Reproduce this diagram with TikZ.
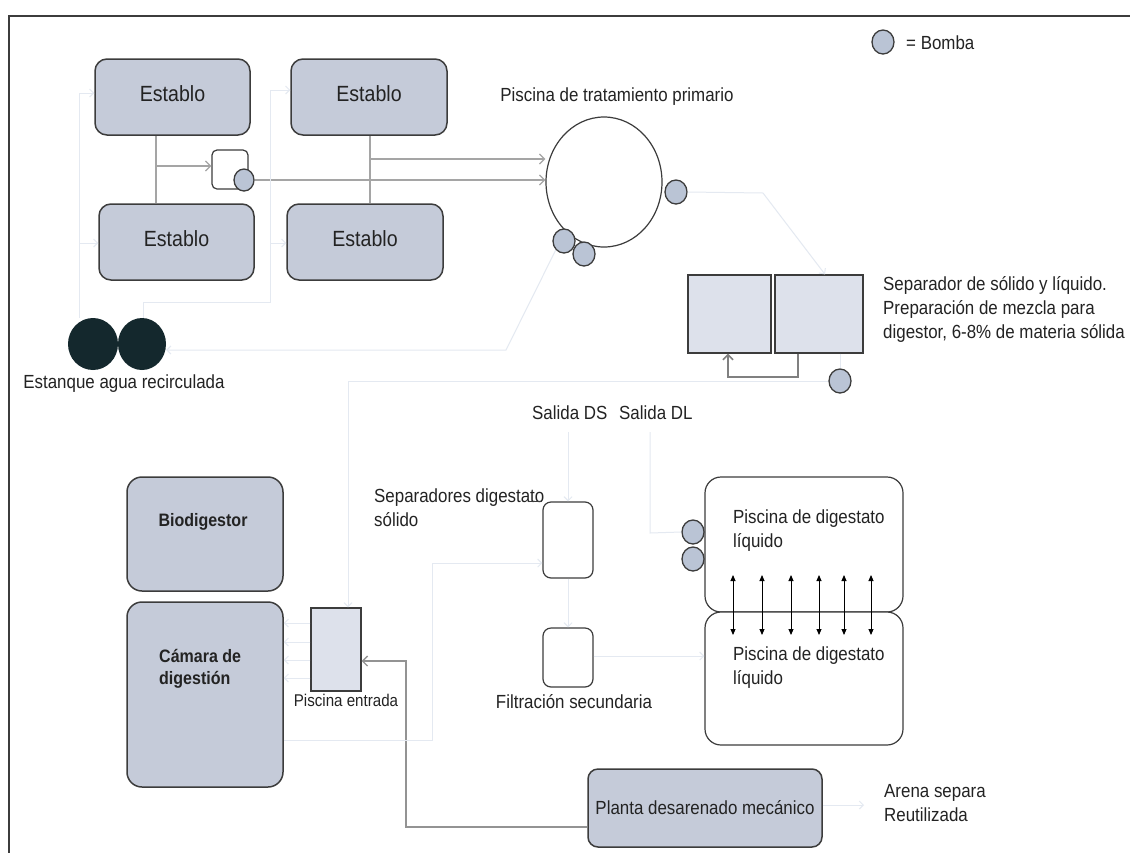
\documentclass[tikz,border=0pt]{standalone}
\usepackage{fontspec}
\setmainfont{Liberation Sans}[FakeStretch=0.89]
\usetikzlibrary{arrows.meta,shapes.geometric}
\definecolor{boxfill}{RGB}{197,203,217}
\definecolor{sepfill}{RGB}{221,225,235}
\definecolor{pumpfill}{RGB}{186,196,213}
\definecolor{estfill}{RGB}{20,40,45}
\definecolor{txt}{RGB}{35,35,35}
\definecolor{gline}{RGB}{165,165,165}
\definecolor{faintc}{RGB}{228,233,241}
\definecolor{bd}{RGB}{60,60,60}
\begin{document}
\begin{tikzpicture}[x=1pt,y=-1pt,
  lbl/.style={font=\fontsize{19}{24}\selectfont, text=txt, inner sep=0pt, align=left},
  stable/.style={rectangle, rounded corners=12pt, draw=bd, line width=1.5pt, fill=boxfill, text=txt, inner sep=0pt},
  sepbox/.style={rectangle, draw=bd, line width=1.3pt, fill=sepfill, inner sep=0pt},
  wbox/.style={rectangle, rounded corners=8pt, draw=bd, line width=1.2pt, fill=white, inner sep=0pt},
  pump/.style={ellipse, draw=bd, line width=1.3pt, fill=pumpfill, minimum width=22pt, minimum height=24pt, inner sep=0pt},
  estc/.style={ellipse, fill=estfill, minimum width=50pt, minimum height=52pt, inner sep=0pt},
  gl/.style={draw=gline, line width=1.3pt},
  garrow/.style={gl, -{Straight Barb[length=5pt,width=10pt]}},
  faint/.style={draw=faintc, line width=1pt},
  farrow/.style={faint, -{Straight Barb[length=4pt,width=8pt]}},
  darrow/.style={draw=black, line width=0.9pt, {Triangle[length=6pt,width=5pt]}-{Triangle[length=6pt,width=5pt]}},
  estab/.style={stable, minimum width=155pt, minimum height=76pt, font=\fontsize{22}{26}\selectfont, text depth=6pt}
]
\useasboundingbox (0,0) rectangle (1130,852);
\fill[white] (0,0) rectangle (1130,852);
\draw[draw=bd, line width=1.5pt] (9,860) -- (9,16) -- (1135,16);

% ---- stables ----
\node[estab] (e1) at (172.5,97) {Establo};
\node[estab, minimum width=156pt] (e2) at (369,97) {Establo};
\node[estab] (e3) at (176.5,242) {Establo};
\node[estab, minimum width=156pt] (e4) at (365,242) {Establo};
\node[wbox, rounded corners=5pt, minimum width=36pt, minimum height=39pt] (sb) at (230,169.5) {};
\node[pump, minimum width=20pt, minimum height=22pt] (p0) at (244,180) {};

% ---- primary pool ----
\node[ellipse, draw=bd, line width=1.2pt, fill=white, minimum width=116pt, minimum height=130pt, inner sep=0pt] (pool) at (604,182) {};
\node[lbl] (poolt) at (617,97) {Piscina de tratamiento primario};
\node[pump] (p1) at (676,192) {};
\node[pump] (p2) at (564,241) {};
\node[pump] (p3) at (584,254) {};

% ---- legend ----
\node[pump] (leg) at (883,42) {};
\node[lbl, anchor=west] (legt) at (906,43) {= Bomba};

% ---- separator ----
\node[sepbox, minimum width=83pt, minimum height=78pt] (sepL) at (729.5,314) {};
\node[sepbox, minimum width=88pt, minimum height=78pt] (sepR) at (819,314) {};
\node[pump] (p4) at (840,381) {};
\node[lbl, anchor=west] (sept) at (883,309) {Separador de sólido y líquido.\\Preparación de mezcla para\\digestor, 6-8\% de materia sólida};

% ---- estanque ----
\node[estc] (est1) at (93,344) {};
\node[estc, minimum width=48pt] (est2) at (142,344) {};
\node[lbl] (estt) at (124,384) {Estanque agua recirculada};

% ---- digester ----
\node[stable, rounded corners=15pt, minimum width=156pt, minimum height=114pt] (bio) at (205,534) {};
\node[lbl, font=\fontsize{18}{22}\selectfont\bfseries] (biot) at (203,522) {Biodigestor};
\node[stable, rounded corners=15pt, minimum width=156pt, minimum height=185pt] (cam) at (205,694.5) {};
\node[lbl, anchor=west, font=\fontsize{18}{22}\selectfont\bfseries] (camt) at (159,669) {Cámara de\\digestión};
\node[sepbox, minimum width=50pt, minimum height=83pt] (pe) at (336,649.5) {};
\node[lbl, font=\fontsize{17}{20}\selectfont] (pet) at (346,700) {Piscina entrada};

% ---- digestate ----
\node[lbl, anchor=west] (sds) at (532,413) {Salida DS};
\node[lbl, anchor=west] (sdl) at (619,413) {Salida DL};
\node[wbox, minimum width=50pt, minimum height=76pt] (sd) at (568,540) {};
\node[lbl, anchor=west] (sdt) at (374,508) {Separadores digestato\\sólido};
\node[wbox, minimum width=50pt, minimum height=59pt] (fs) at (568,657.5) {};
\node[lbl] (fst) at (574,702) {Filtración secundaria};

\node[wbox, rounded corners=16pt, minimum width=198pt, minimum height=135pt] (poolU) at (804,544.5) {};
\node[wbox, rounded corners=16pt, minimum width=198pt, minimum height=133pt] (poolL) at (804,678.5) {};
\node[lbl, anchor=west] (poolUt) at (733,531) {Piscina de digestato\\líquido};
\node[lbl, anchor=west] (poolLt) at (733,668) {Piscina de digestato\\líquido};
\node[pump] (p5) at (693,532) {};
\node[pump] (p6) at (693,559) {};

\node[stable, rounded corners=10pt, minimum width=234pt, minimum height=78pt, font=\fontsize{19}{24}\selectfont] (planta) at (705,808) {Planta desarenado mecánico};
\node[lbl, anchor=west] (arena) at (884,803) {Arena separa\\Reutilizada};

% ---- grey connectors ----
\coordinate (j1) at (156,166);
\draw[gl] (e1.south -| j1) -- (e3.north -| j1);
\draw[garrow] (j1) -- (sb.west |- j1);
\coordinate (j2) at (370,159);
\draw[gl] (e2.south -| j2) -- (e4.north -| j2);
\draw[garrow] (j2) -- (pool.west |- j2);
\draw[garrow] (p0.east) -- (pool.west |- p0.east);
\coordinate (s1) at (798,377);
\coordinate (s2) at (728,377);
\draw[garrow, draw=gray, line width=1.6pt] (sepR.south -| s1) -- (s1) -- (s2) -- (sepL.south -| s2);
\coordinate (g1) at (406,827);
\coordinate (g2) at (406,661);
\draw[garrow, draw=gray!85] (planta.west |- g1) -- (g1) -- (g2) -- (pe.east |- g2);

% ---- faint connectors ----
\coordinate (f1) at (79,93);
\coordinate (f2) at (79,243);
\draw[faint] (est1.north -| f1) -- (f1);
\draw[farrow] (f1) -- (e1.west |- f1);
\draw[farrow] (f2) -- (e3.west |- f2);
\coordinate (f3) at (270,90);
\coordinate (f4) at (270,243);
\coordinate (f5) at (270,302);
\coordinate (f6) at (143,302);
\draw[faint] (est2.north -| f6) -- (f6) -- (f5) -- (f3);
\draw[farrow] (f3) -- (e2.west |- f3);
\draw[farrow] (f4) -- (e4.west |- f4);
\coordinate (f7) at (506,350);
\draw[farrow] (p2.south west) -- (f7) -- (est2.east |- f7);
\coordinate (f8) at (763,193);
\coordinate (f9) at (825,275);
\draw[farrow] (p1.east) -- (f8) -- (sepR.north -| f9);
\draw[faint] (sepR.south -| p4) -- (p4.north);
\coordinate (f10) at (348,384);
\draw[farrow] (p4.west) -- (p4.west -| f10) -- (pe.north -| f10);
\coordinate (f11) at (568,432);
\draw[farrow] (f11) -- (sd.north);
\coordinate (f12) at (650,432);
\coordinate (f13) at (650,533);
\draw[faint] (f12) -- (f13) -- (p5.west);
\coordinate (f14) at (432,740);
\coordinate (f15) at (432,563);
\draw[farrow] (cam.east |- f14) -- (f14) -- (f15) -- (sd.west |- f15);
\draw[farrow] (sd.south) -- (fs.north);
\coordinate (f16) at (600,656);
\draw[farrow] (fs.east |- f16) -- (poolL.west |- f16);
\coordinate (f17) at (864,805);
\draw[farrow] (planta.east |- f17) -- (f17);
\foreach \y [count=\i] in {623,642,660,678} {
  \coordinate (pa\i) at (320,\y);
  \draw[farrow] (pe.west |- pa\i) -- (cam.east |- pa\i);
}
\draw[draw=bd, line width=0.8pt] ([xshift=-14pt]sd.north west) -- (sd.north west);

% ---- double arrows between digestate pools ----
\foreach \x [count=\i] in {733,762,791,819,844,871} {
  \coordinate (da\i) at (\x,575);
  \coordinate (db\i) at (\x,635);
  \draw[darrow] (da\i) -- (db\i);
}
\end{tikzpicture}
\end{document}
